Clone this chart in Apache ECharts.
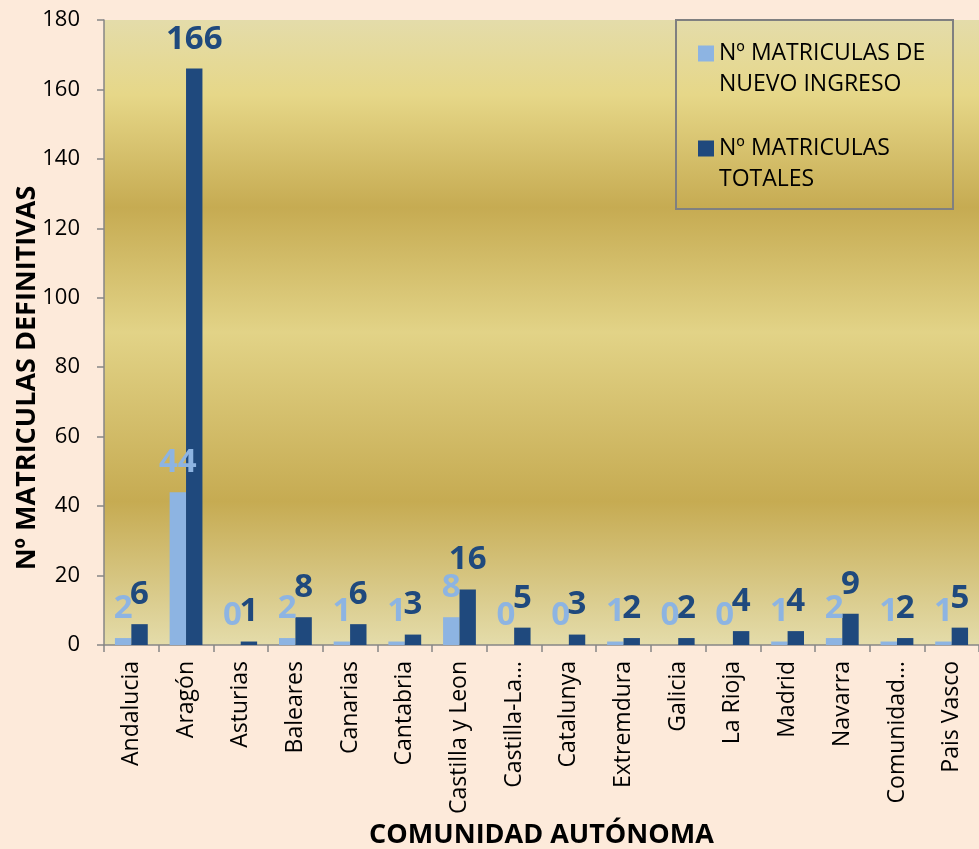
<!DOCTYPE html>
<html>
<head>
<meta charset="utf-8">
<script src="https://cdn.jsdelivr.net/npm/echarts@6/dist/echarts.min.js"></script>
<style>
html,body{margin:0;padding:0;background:#FDEADA;}
#chart{width:979px;height:849px;}
</style>
</head>
<body>
<div id="chart"></div>
<script>
const categories = ['Andalucia','Aragón','Asturias','Baleares','Canarias','Cantabria','Castilla y Leon','Castilla-La…','Catalunya','Extremdura','Galicia','La Rioja','Madrid','Navarra','Comunidad…','Pais Vasco'];
const nuevoIngreso = [2,44,0,2,1,1,8,0,0,1,0,0,1,2,1,1];
const totales = [6,166,1,8,6,3,16,5,3,2,2,4,4,9,2,5];
const seriesNames = ['Nº MATRICULAS DE NUEVO INGRESO','Nº MATRICULAS TOTALES'];
const legendLines = {
  'Nº MATRICULAS DE NUEVO INGRESO': ['Nº MATRICULAS DE','NUEVO INGRESO'],
  'Nº MATRICULAS TOTALES': ['Nº MATRICULAS','TOTALES']
};
const yTicks = {min:0, max:180, interval:20};

const FONT = 'Open Sans';
const chart = echarts.init(document.getElementById('chart'), null, {renderer:'canvas'});
const labelBase = {show:true, position:'top', distance:13, fontFamily:FONT, fontWeight:'bold', fontSize:33};
chart.setOption({
  backgroundColor:'#FDEADA',
  animation:false,
  textStyle:{fontFamily:FONT},
  grid:{left:104, right:0, top:20, bottom:204, show:true, borderWidth:0,
    containLabel:false, outerBoundsMode:'none',
    backgroundColor:{type:'linear', x:0, y:0, x2:0, y2:1, colorStops:[
      {offset:0, color:'#E4DCAA'},
      {offset:0.12, color:'#E6D788'},
      {offset:0.30, color:'#C6AB52'},
      {offset:0.50, color:'#E2D387'},
      {offset:0.77, color:'#C6AB52'},
      {offset:1, color:'#E4DCAA'}
    ]}},
  legend:{
    orient:'vertical', left:693, top:2, itemWidth:16, itemHeight:16, itemGap:2,
    icon:'rect',
    data:seriesNames,
    formatter:function(n){var l=legendLines[n]; return '{s| }\n{a|'+l[0]+'}\n{a|'+l[1]+'}';},
    textStyle:{fontFamily:FONT, fontSize:23, color:'#000', lineHeight:31,
      rich:{
        s:{fontSize:23, lineHeight:31, fontFamily:FONT},
        a:{fontSize:23, lineHeight:31, fontFamily:FONT, color:'#000'}
      }}
  },
  graphic:[
    {type:'rect', shape:{x:676, y:20, width:277, height:189}, style:{fill:'none', stroke:'#808080', lineWidth:2}, z:100},
    {type:'text', x:27, y:378, rotation:Math.PI/2, style:{text:'Nº MATRICULAS DEFINITIVAS', fontFamily:FONT, fontWeight:'bold', fontSize:27, fill:'#000', textAlign:'center', textVerticalAlign:'middle'}}
  ],
  xAxis:{
    type:'category', data:categories,
    name:'COMUNIDAD AUTÓNOMA', nameLocation:'middle', nameGap:173,
    nameTextStyle:{fontFamily:FONT, fontWeight:'bold', fontSize:27, color:'#000'},
    axisLine:{lineStyle:{color:'#868686', width:1.5}},
    axisTick:{show:true, length:7, lineStyle:{color:'#868686', width:1.5}},
    axisLabel:{interval:0, rotate:90, margin:16, fontSize:23, color:'#000', fontFamily:FONT}
  },
  yAxis:{
    type:'value', min:yTicks.min, max:yTicks.max, interval:yTicks.interval,
    axisLine:{show:true, lineStyle:{color:'#868686', width:1.5}},
    axisTick:{show:true, length:7, lineStyle:{color:'#868686', width:1.5}},
    splitLine:{show:false},
    axisLabel:{margin:24, fontSize:22, color:'#000', fontFamily:FONT}
  },
  series:[
    {name:seriesNames[0], type:'bar', data:nuevoIngreso, barGap:'0%', barCategoryGap:'40%',
      itemStyle:{color:'#8DB4E2'},
      label:Object.assign({color:'#8DB4E2'}, labelBase)},
    {name:seriesNames[1], type:'bar', data:totales, barGap:'0%', barCategoryGap:'40%',
      itemStyle:{color:'#1F497D'},
      label:Object.assign({color:'#1F497D'}, labelBase)}
  ]
});
</script>
</body>
</html>
